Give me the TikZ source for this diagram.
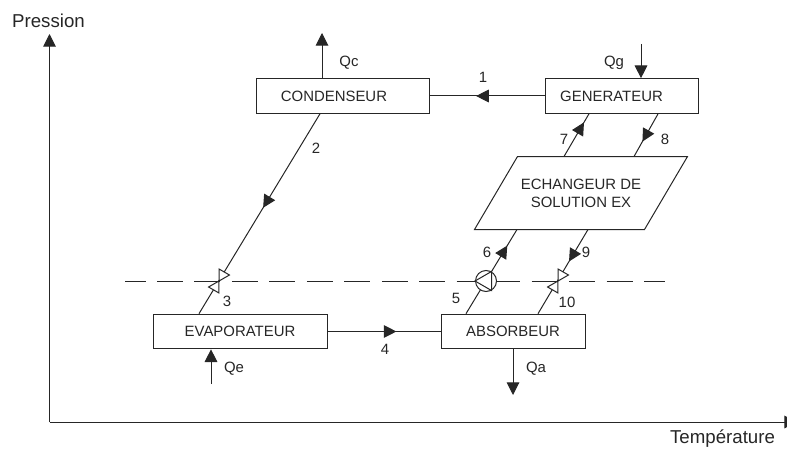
\documentclass[tikz,border=0pt]{standalone}
\usepackage{fontspec}
\setmainfont{Liberation Sans}
\usetikzlibrary{arrows.meta,decorations.markings,shapes.geometric}
\tikzset{
	appareil/.style={draw,minimum height=26pt,inner sep=0pt,fill=white},
	etiquette/.style={inner sep=0pt},
	grand/.style={inner sep=0pt,font=\fontsize{14}{16}\selectfont},
	fleche/.style={-{Triangle[length=9.5pt,width=9.5pt]}},
	sens/.style={postaction={decorate},decoration={markings,mark=at position #1 with {\arrow{Triangle[length=9.5pt,width=9.5pt]}}}},
	vanne/.style={draw,fill=white,regular polygon,regular polygon sides=3,inner sep=0pt,minimum size=10.4pt},
}
\begin{document}
\begin{tikzpicture}[x=0.75pt,y=-0.75pt,font=\fontsize{11.2}{13.5}\selectfont,line width=0.75pt,color=black!85]
\useasboundingbox (0,0) rectangle (787,449);
% axes
\coordinate (origine) at (49.5,422);
\coordinate (haut) at (49.5,34);
\coordinate (droite) at (797,422);
\draw[fleche] (origine) -- (haut);
\draw[fleche] (origine) -- (droite);
\node[grand] (pression) at (48.5,21) {Pression};
\node[grand] (temperature) at (722.5,439) {Température};
% limite de pression
\coordinate (lim1) at (125,281);
\coordinate (lim2) at (665,281);
\draw[dash pattern=on 19.5pt off 8.6pt,dash phase=4.1pt] (lim1) -- (lim2);
% appareils
\node[appareil,minimum width=129.75pt] (condenseur) at (342.5,96) {CONDENSEUR\kern12.8pt};
\node[appareil,minimum width=114.75pt] (generateur) at (621.5,96) {GENERATEUR\kern15pt};
\node[appareil,minimum width=130.5pt] (evaporateur) at (240,331.5) {EVAPORATEUR};
\node[appareil,minimum width=108pt] (absorbeur) at (513,331.5) {ABSORBEUR};
\node[minimum width=159pt,minimum height=54pt,inner sep=0pt,align=center] (echangeur) at (581,193) {ECHANGEUR DE\\SOLUTION EX};
\draw ([xshift=32.25pt]echangeur.north west) -- (echangeur.north east) -- ([xshift=-32.25pt]echangeur.south east) -- (echangeur.south west) -- cycle;
% liaisons
\draw[sens=0.595] (generateur.west) -- (condenseur.east);
\draw[sens=0.61] (evaporateur.east) -- (absorbeur.west);
\draw[sens=0.47] ([xshift=-16.9pt]condenseur.south) -- ([xshift=-30.75pt]evaporateur.north);
\draw[sens=0.81] ([xshift=-35.25pt]absorbeur.north) -- ([xshift=-48pt]echangeur.south);
\draw[sens=0.38] ([xshift=5.25pt]echangeur.south) -- ([xshift=18.75pt]absorbeur.north);
\draw[sens=0.80] ([xshift=-12.75pt]echangeur.north) -- ([xshift=-24.4pt]generateur.south);
\draw[sens=0.65] ([xshift=27.4pt]generateur.south) -- ([xshift=39.75pt]echangeur.north);
% vannes et pompe
\node[vanne,rotate=150] (vanne1) at (222.5,275) {};
\node[vanne,rotate=-30] (vanne2) at (215.5,287) {};
\node[vanne,rotate=150] (vanne3) at (561.5,275) {};
\node[vanne,rotate=-30] (vanne4) at (554.5,287) {};
\node[draw,circle,fill=white,minimum size=15.75pt,inner sep=0pt] (pompe) at (486,281) {};
\draw (pompe.180) -- (pompe.60) -- (pompe.-60) -- cycle;
% chaleurs
\coordinate (qc) at (322,33);
\coordinate (qg) at (641,44);
\coordinate (qe) at (211,384);
\coordinate (qa) at (513,395);
\draw[fleche] (condenseur.north -| qc) -- (qc);
\draw[fleche] (qg) -- (generateur.north -| qg);
\draw[fleche] (qe) -- (evaporateur.south -| qe);
\draw[fleche] (absorbeur.south -| qa) -- (qa);
\node[etiquette] (labelqc) at (349,63) {Qc};
\node[etiquette] (labelqg) at (614,63) {Qg};
\node[etiquette] (labelqe) at (234,369) {Qe};
\node[etiquette] (labelqa) at (536,369) {Qa};
% numeros
\node[etiquette] (n1) at (483,77) {1};
\node[etiquette] (n2) at (316,148) {2};
\node[etiquette] (n3) at (227,301) {3};
\node[etiquette] (n4) at (385,349) {4};
\node[etiquette] (n5) at (456,298) {5};
\node[etiquette] (n6) at (487,252) {6};
\node[etiquette] (n7) at (564,139) {7};
\node[etiquette] (n8) at (665,139) {8};
\node[etiquette] (n9) at (586,252) {9};
\node[etiquette] (n10) at (567,302) {10};
\end{tikzpicture}
\end{document}
